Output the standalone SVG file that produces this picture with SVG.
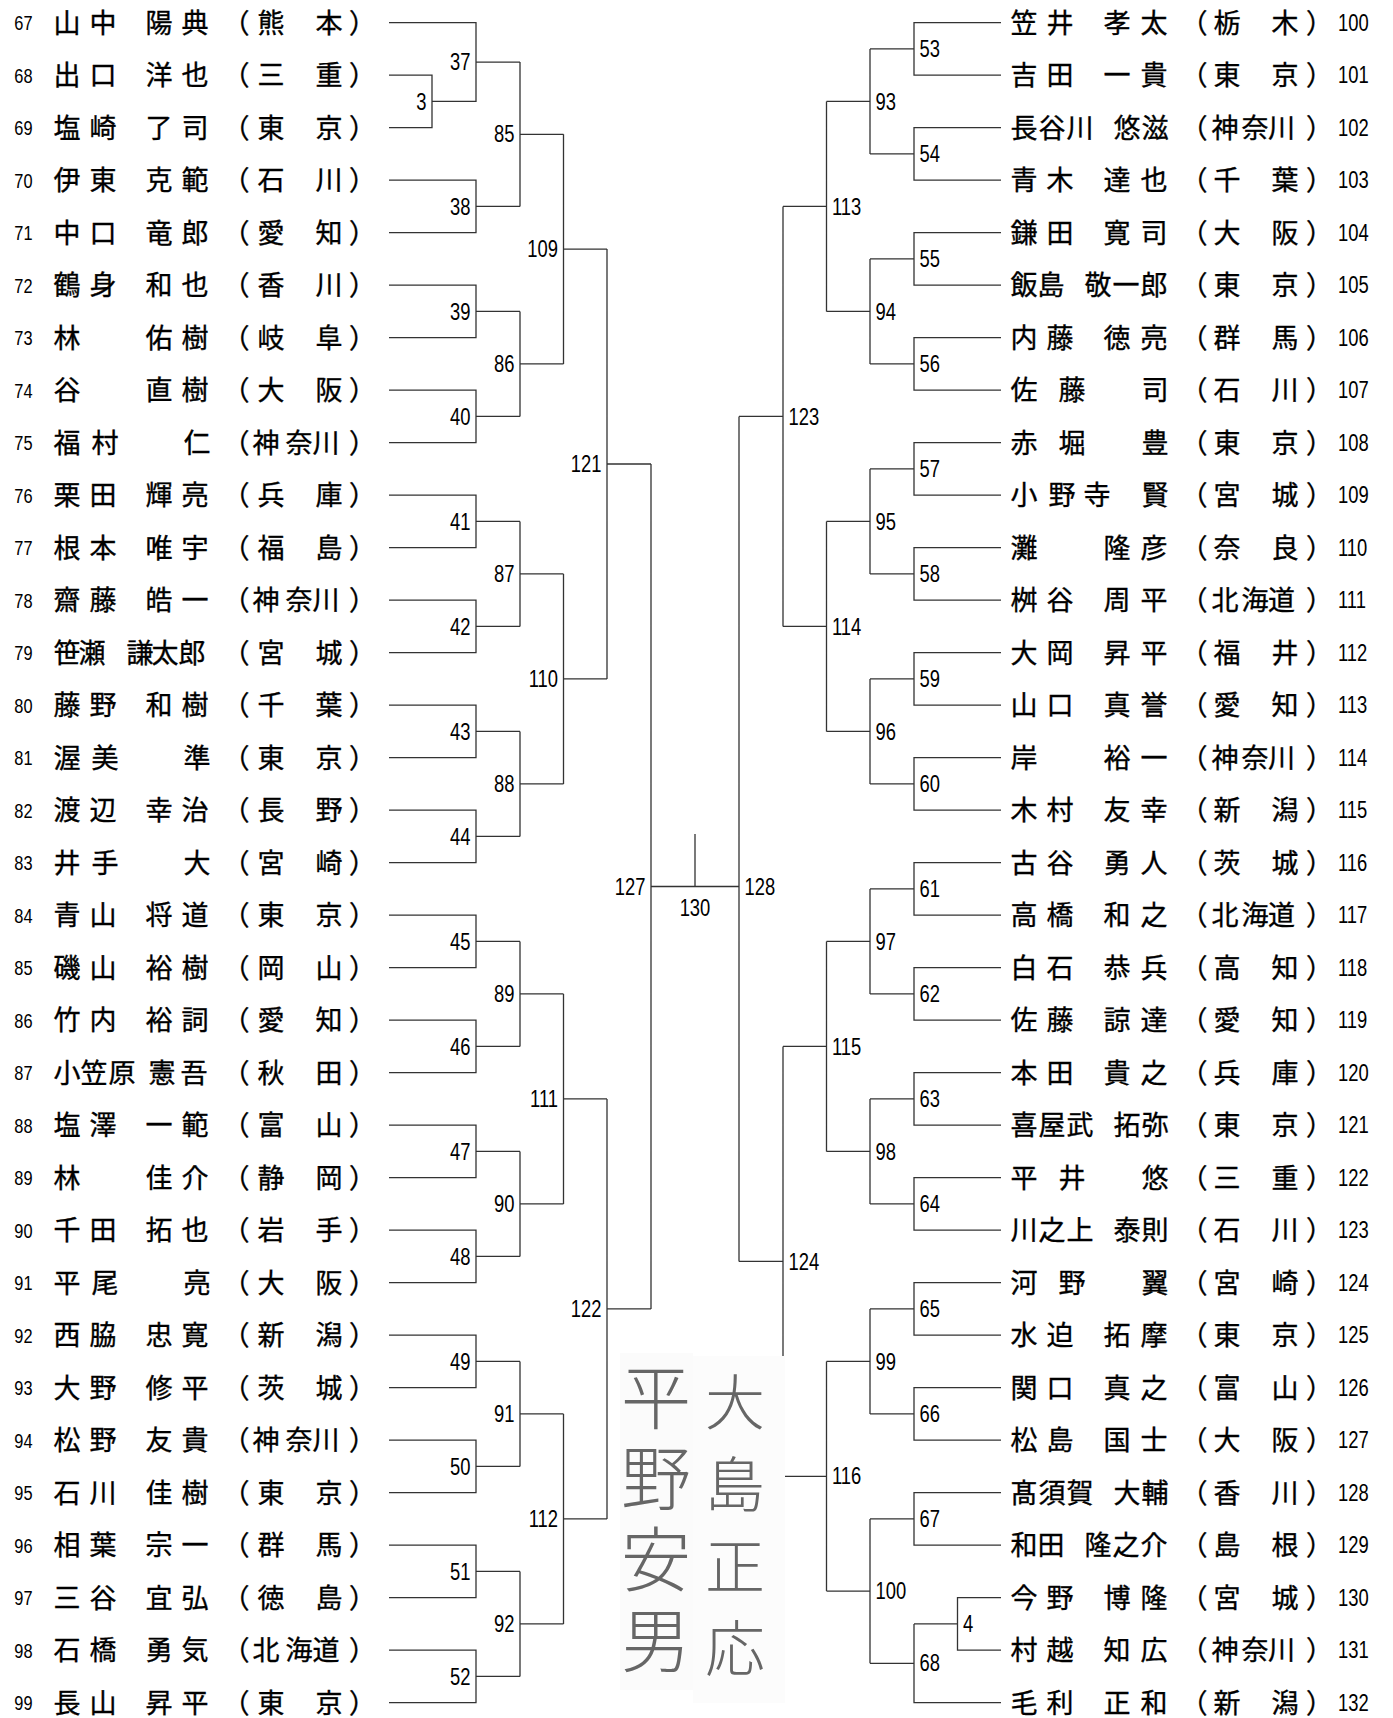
<svg xmlns="http://www.w3.org/2000/svg" width="1393" height="1718" viewBox="0 0 1393 1718">
<style>
.ln{fill:none;stroke:#333;stroke-width:1.3}
.nm{font-family:"Noto Sans CJK JP","Noto Sans CJK SC",sans-serif;font-size:27px;fill:#000;stroke:#000;stroke-width:0.35}
.nl,.nr,.ml,.mr,.mc{font-family:"Liberation Sans Narrow","Liberation Sans",sans-serif;fill:#000;transform-box:fill-box}
.nl{font-size:21px;text-anchor:end;transform-origin:100% 50%;transform:scaleX(0.78)}
.nr{font-size:23px;transform-origin:0% 50%;transform:scaleX(0.8)}
.ml{font-size:23px;text-anchor:end;transform-origin:100% 50%;transform:scaleX(0.8)}
.mr{font-size:23px;transform-origin:0% 50%;transform:scaleX(0.8)}
.mc{font-size:23px;text-anchor:middle;transform-origin:50% 50%;transform:scaleX(0.8)}
.sg{font-family:"Noto Sans CJK JP",sans-serif;font-weight:300;fill:#666;writing-mode:vertical-rl}
</style>
<rect width="1393" height="1718" fill="#fff"/>
<g id="connectors" class="ln">
<path d="M389 22.7H476V101.45H432M389 75.2H432V127.7H389M432 101.45H476M476 62.1H520
M389 180.2H476V232.7H389M476 206.45H520
M389 285.2H476V337.7H389M476 311.45H520
M389 390.2H476V442.7H389M476 416.45H520
M389 495.2H476V547.7H389M476 521.45H520
M389 600.2H476V652.7H389M476 626.45H520
M389 705.2H476V757.7H389M476 731.45H520
M389 810.2H476V862.7H389M476 836.45H520
M389 915.2H476V967.7H389M476 941.45H520
M389 1020.2H476V1072.7H389M476 1046.45H520
M389 1125.2H476V1177.7H389M476 1151.45H520
M389 1230.2H476V1282.7H389M476 1256.45H520
M389 1335.2H476V1387.7H389M476 1361.45H520
M389 1440.2H476V1492.7H389M476 1466.45H520
M389 1545.2H476V1597.7H389M476 1571.45H520
M389 1650.2H476V1702.7H389M476 1676.45H520
M520 62.1V206.45M520 134.3H563.5
M520 311.45V416.45M520 363.95H563.5
M520 521.45V626.45M520 573.95H563.5
M520 731.45V836.45M520 783.95H563.5
M520 941.45V1046.45M520 993.95H563.5
M520 1151.45V1256.45M520 1203.95H563.5
M520 1361.45V1466.45M520 1413.95H563.5
M520 1571.45V1676.45M520 1623.95H563.5
M563.5 134.3V363.95M563.5 249.1H607
M563.5 573.95V783.95M563.5 678.95H607
M563.5 993.95V1203.95M563.5 1098.95H607
M563.5 1413.95V1623.95M563.5 1518.95H607
M607 249.1V678.95M607 464H651
M607 1098.95V1518.95M607 1308.95H651
M651 464V1308.95M651 886.5H739M695 834V886.5
M739 416.45V1261.4
M1001 22.7H914V75.2H1001M914 48.95H870
M1001 127.7H914V180.2H1001M914 153.95H870
M1001 232.7H914V285.2H1001M914 258.95H870
M1001 337.7H914V390.2H1001M914 363.95H870
M1001 442.7H914V495.2H1001M914 468.95H870
M1001 547.7H914V600.2H1001M914 573.95H870
M1001 652.7H914V705.2H1001M914 678.95H870
M1001 757.7H914V810.2H1001M914 783.95H870
M1001 862.7H914V915.2H1001M914 888.95H870
M1001 967.7H914V1020.2H1001M914 993.95H870
M1001 1072.7H914V1125.2H1001M914 1098.95H870
M1001 1177.7H914V1230.2H1001M914 1203.95H870
M1001 1282.7H914V1335.2H1001M914 1308.95H870
M1001 1387.7H914V1440.2H1001M914 1413.95H870
M1001 1492.7H914V1545.2H1001M914 1518.95H870
M1001 1597.7H957.5V1650.2H1001M957.5 1623.95H914
M914 1623.95V1702.7H1001M914 1663.3H870
M870 48.95V153.95M870 101.45H826.5
M870 258.95V363.95M870 311.45H826.5
M870 468.95V573.95M870 521.45H826.5
M870 678.95V783.95M870 731.45H826.5
M870 888.95V993.95M870 941.45H826.5
M870 1098.95V1203.95M870 1151.45H826.5
M870 1308.95V1413.95M870 1361.45H826.5
M870 1518.95V1663.3M870 1591.1H826.5
M826.5 101.45V311.45M826.5 206.45H783
M826.5 521.45V731.45M826.5 626.45H783
M826.5 941.45V1151.45M826.5 1046.45H783
M826.5 1361.45V1591.1M826.5 1476.3H783
M783 206.45V626.45M783 416.45H739
M783 1046.45V1476.3M783 1261.4H739"/>
</g>
<g id="left-players">
<g id="r67"><text class="nl" x="32.5" y="30.2">67</text><text class="nm" x="53.5 89.5 117 145.5 181.5 222.5 257.5 286 315.5 349" y="32.7">山中　陽典（熊　本）</text></g>
<g id="r68"><text class="nl" x="32.5" y="82.7">68</text><text class="nm" x="53.5 89.5 117 145.5 181.5 222.5 257.5 286 315.5 349" y="85.2">出口　洋也（三　重）</text></g>
<g id="r69"><text class="nl" x="32.5" y="135.2">69</text><text class="nm" x="53.5 89.5 117 145.5 181.5 222.5 257.5 286 315.5 349" y="137.7">塩崎　了司（東　京）</text></g>
<g id="r70"><text class="nl" x="32.5" y="187.7">70</text><text class="nm" x="53.5 89.5 117 145.5 181.5 222.5 257.5 286 315.5 349" y="190.2">伊東　克範（石　川）</text></g>
<g id="r71"><text class="nl" x="32.5" y="240.2">71</text><text class="nm" x="53.5 89.5 117 145.5 181.5 222.5 257.5 286 315.5 349" y="242.7">中口　竜郎（愛　知）</text></g>
<g id="r72"><text class="nl" x="32.5" y="292.7">72</text><text class="nm" x="53.5 89.5 117 145.5 181.5 222.5 257.5 286 315.5 349" y="295.2">鶴身　和也（香　川）</text></g>
<g id="r73"><text class="nl" x="32.5" y="345.2">73</text><text class="nm" x="53.5 99 145.5 181.5 222.5 257.5 286 315.5 349" y="347.7">林　佑樹（岐　阜）</text></g>
<g id="r74"><text class="nl" x="32.5" y="397.7">74</text><text class="nm" x="53.5 99 145.5 181.5 222.5 257.5 286 315.5 349" y="400.2">谷　直樹（大　阪）</text></g>
<g id="r75"><text class="nl" x="32.5" y="450.2">75</text><text class="nm" x="53.5 91.5 140 183.5 222.5 252.5 285.5 312.5 349" y="452.7">福村　仁（神奈川）</text></g>
<g id="r76"><text class="nl" x="32.5" y="502.7">76</text><text class="nm" x="53.5 89.5 117 145.5 181.5 222.5 257.5 286 315.5 349" y="505.2">栗田　輝亮（兵　庫）</text></g>
<g id="r77"><text class="nl" x="32.5" y="555.2">77</text><text class="nm" x="53.5 89.5 117 145.5 181.5 222.5 257.5 286 315.5 349" y="557.7">根本　唯宇（福　島）</text></g>
<g id="r78"><text class="nl" x="32.5" y="607.7">78</text><text class="nm" x="53.5 89.5 117 145.5 181.5 222.5 252.5 285.5 312.5 349" y="610.2">齋藤　皓一（神奈川）</text></g>
<g id="r79"><text class="nl" x="32.5" y="660.2">79</text><text class="nm" x="53.5 78.5 103 126.5 151.5 178.5 222.5 257.5 286 315.5 349" y="662.7">笹瀬　謙太郎（宮　城）</text></g>
<g id="r80"><text class="nl" x="32.5" y="712.7">80</text><text class="nm" x="53.5 89.5 117 145.5 181.5 222.5 257.5 286 315.5 349" y="715.2">藤野　和樹（千　葉）</text></g>
<g id="r81"><text class="nl" x="32.5" y="765.2">81</text><text class="nm" x="53.5 91.5 140 183.5 222.5 257.5 286 315.5 349" y="767.7">渥美　準（東　京）</text></g>
<g id="r82"><text class="nl" x="32.5" y="817.7">82</text><text class="nm" x="53.5 89.5 117 145.5 181.5 222.5 257.5 286 315.5 349" y="820.2">渡辺　幸治（長　野）</text></g>
<g id="r83"><text class="nl" x="32.5" y="870.2">83</text><text class="nm" x="53.5 91.5 140 183.5 222.5 257.5 286 315.5 349" y="872.7">井手　大（宮　崎）</text></g>
<g id="r84"><text class="nl" x="32.5" y="922.7">84</text><text class="nm" x="53.5 89.5 117 145.5 181.5 222.5 257.5 286 315.5 349" y="925.2">青山　将道（東　京）</text></g>
<g id="r85"><text class="nl" x="32.5" y="975.2">85</text><text class="nm" x="53.5 89.5 117 145.5 181.5 222.5 257.5 286 315.5 349" y="977.7">磯山　裕樹（岡　山）</text></g>
<g id="r86"><text class="nl" x="32.5" y="1027.7">86</text><text class="nm" x="53.5 89.5 117 145.5 181.5 222.5 257.5 286 315.5 349" y="1030.2">竹内　裕詞（愛　知）</text></g>
<g id="r87"><text class="nl" x="32.5" y="1080.2">87</text><text class="nm" x="53.5 80.5 108.5 130 148.5 180.5 222.5 257.5 286 315.5 349" y="1082.7">小笠原　憲吾（秋　田）</text></g>
<g id="r88"><text class="nl" x="32.5" y="1132.7">88</text><text class="nm" x="53.5 89.5 117 145.5 181.5 222.5 257.5 286 315.5 349" y="1135.2">塩澤　一範（富　山）</text></g>
<g id="r89"><text class="nl" x="32.5" y="1185.2">89</text><text class="nm" x="53.5 99 145.5 181.5 222.5 257.5 286 315.5 349" y="1187.7">林　佳介（静　岡）</text></g>
<g id="r90"><text class="nl" x="32.5" y="1237.7">90</text><text class="nm" x="53.5 89.5 117 145.5 181.5 222.5 257.5 286 315.5 349" y="1240.2">千田　拓也（岩　手）</text></g>
<g id="r91"><text class="nl" x="32.5" y="1290.2">91</text><text class="nm" x="53.5 91.5 140 183.5 222.5 257.5 286 315.5 349" y="1292.7">平尾　亮（大　阪）</text></g>
<g id="r92"><text class="nl" x="32.5" y="1342.7">92</text><text class="nm" x="53.5 89.5 117 145.5 181.5 222.5 257.5 286 315.5 349" y="1345.2">西脇　忠寛（新　潟）</text></g>
<g id="r93"><text class="nl" x="32.5" y="1395.2">93</text><text class="nm" x="53.5 89.5 117 145.5 181.5 222.5 257.5 286 315.5 349" y="1397.7">大野　修平（茨　城）</text></g>
<g id="r94"><text class="nl" x="32.5" y="1447.7">94</text><text class="nm" x="53.5 89.5 117 145.5 181.5 222.5 252.5 285.5 312.5 349" y="1450.2">松野　友貴（神奈川）</text></g>
<g id="r95"><text class="nl" x="32.5" y="1500.2">95</text><text class="nm" x="53.5 89.5 117 145.5 181.5 222.5 257.5 286 315.5 349" y="1502.7">石川　佳樹（東　京）</text></g>
<g id="r96"><text class="nl" x="32.5" y="1552.7">96</text><text class="nm" x="53.5 89.5 117 145.5 181.5 222.5 257.5 286 315.5 349" y="1555.2">相葉　宗一（群　馬）</text></g>
<g id="r97"><text class="nl" x="32.5" y="1605.2">97</text><text class="nm" x="53.5 89.5 117 145.5 181.5 222.5 257.5 286 315.5 349" y="1607.7">三谷　宜弘（徳　島）</text></g>
<g id="r98"><text class="nl" x="32.5" y="1657.7">98</text><text class="nm" x="53.5 89.5 117 145.5 181.5 222.5 252.5 285.5 312.5 349" y="1660.2">石橋　勇気（北海道）</text></g>
<g id="r99"><text class="nl" x="32.5" y="1710.2">99</text><text class="nm" x="53.5 89.5 117 145.5 181.5 222.5 257.5 286 315.5 349" y="1712.7">長山　昇平（東　京）</text></g>
</g>
<g id="right-players">
<g id="r100"><text class="nm" x="1010.5 1046.5 1075 1103.5 1140.5 1180.5 1213.5 1242 1271.5 1306" y="32.7">笠井　孝太（栃　木）</text><text class="nr" x="1338" y="30.9">100</text></g>
<g id="r101"><text class="nm" x="1010.5 1046.5 1075 1103.5 1140.5 1180.5 1213.5 1242 1271.5 1306" y="85.2">吉田　一貴（東　京）</text><text class="nr" x="1338" y="83.4">101</text></g>
<g id="r102"><text class="nm" x="1010.5 1038.5 1066.5 1090 1113.5 1141.5 1180.5 1211.5 1241.5 1268 1306" y="137.7">長谷川　悠滋（神奈川）</text><text class="nr" x="1338" y="135.9">102</text></g>
<g id="r103"><text class="nm" x="1010.5 1046.5 1075 1103.5 1140.5 1180.5 1213.5 1242 1271.5 1306" y="190.2">青木　達也（千　葉）</text><text class="nr" x="1338" y="188.4">103</text></g>
<g id="r104"><text class="nm" x="1010.5 1046.5 1075 1103.5 1140.5 1180.5 1213.5 1242 1271.5 1306" y="242.7">鎌田　寛司（大　阪）</text><text class="nr" x="1338" y="240.9">104</text></g>
<g id="r105"><text class="nm" x="1010.5 1037.5 1060 1084.5 1112.5 1140.5 1180.5 1213.5 1242 1271.5 1306" y="295.2">飯島　敬一郎（東　京）</text><text class="nr" x="1338" y="293.4">105</text></g>
<g id="r106"><text class="nm" x="1010.5 1046.5 1075 1103.5 1140.5 1180.5 1213.5 1242 1271.5 1306" y="347.7">内藤　徳亮（群　馬）</text><text class="nr" x="1338" y="345.9">106</text></g>
<g id="r107"><text class="nm" x="1010.5 1058.5 1100 1141.5 1180.5 1213.5 1242 1271.5 1306" y="400.2">佐藤　司（石　川）</text><text class="nr" x="1338" y="398.4">107</text></g>
<g id="r108"><text class="nm" x="1010.5 1058.5 1100 1141.5 1180.5 1213.5 1242 1271.5 1306" y="452.7">赤堀　豊（東　京）</text><text class="nr" x="1338" y="450.9">108</text></g>
<g id="r109"><text class="nm" x="1010.5 1048.5 1083.5 1110 1141.5 1180.5 1213.5 1242 1271.5 1306" y="505.2">小野寺　賢（宮　城）</text><text class="nr" x="1338" y="503.4">109</text></g>
<g id="r110"><text class="nm" x="1010.5 1057 1103.5 1140.5 1180.5 1213.5 1242 1271.5 1306" y="557.7">灘　隆彦（奈　良）</text><text class="nr" x="1338" y="555.9">110</text></g>
<g id="r111"><text class="nm" x="1010.5 1046.5 1075 1103.5 1140.5 1180.5 1211.5 1241.5 1268 1306" y="610.2">桝谷　周平（北海道）</text><text class="nr" x="1338" y="608.4">111</text></g>
<g id="r112"><text class="nm" x="1010.5 1046.5 1075 1103.5 1140.5 1180.5 1213.5 1242 1271.5 1306" y="662.7">大岡　昇平（福　井）</text><text class="nr" x="1338" y="660.9">112</text></g>
<g id="r113"><text class="nm" x="1010.5 1046.5 1075 1103.5 1140.5 1180.5 1213.5 1242 1271.5 1306" y="715.2">山口　真誉（愛　知）</text><text class="nr" x="1338" y="713.4">113</text></g>
<g id="r114"><text class="nm" x="1010.5 1057 1103.5 1140.5 1180.5 1211.5 1241.5 1268 1306" y="767.7">岸　裕一（神奈川）</text><text class="nr" x="1338" y="765.9">114</text></g>
<g id="r115"><text class="nm" x="1010.5 1046.5 1075 1103.5 1140.5 1180.5 1213.5 1242 1271.5 1306" y="820.2">木村　友幸（新　潟）</text><text class="nr" x="1338" y="818.4">115</text></g>
<g id="r116"><text class="nm" x="1010.5 1046.5 1075 1103.5 1140.5 1180.5 1213.5 1242 1271.5 1306" y="872.7">古谷　勇人（茨　城）</text><text class="nr" x="1338" y="870.9">116</text></g>
<g id="r117"><text class="nm" x="1010.5 1046.5 1075 1103.5 1140.5 1180.5 1211.5 1241.5 1268 1306" y="925.2">高橋　和之（北海道）</text><text class="nr" x="1338" y="923.4">117</text></g>
<g id="r118"><text class="nm" x="1010.5 1046.5 1075 1103.5 1140.5 1180.5 1213.5 1242 1271.5 1306" y="977.7">白石　恭兵（高　知）</text><text class="nr" x="1338" y="975.9">118</text></g>
<g id="r119"><text class="nm" x="1010.5 1046.5 1075 1103.5 1140.5 1180.5 1213.5 1242 1271.5 1306" y="1030.2">佐藤　諒達（愛　知）</text><text class="nr" x="1338" y="1028.4">119</text></g>
<g id="r120"><text class="nm" x="1010.5 1046.5 1075 1103.5 1140.5 1180.5 1213.5 1242 1271.5 1306" y="1082.7">本田　貴之（兵　庫）</text><text class="nr" x="1338" y="1080.9">120</text></g>
<g id="r121"><text class="nm" x="1010.5 1038.5 1066.5 1090 1113.5 1141.5 1180.5 1213.5 1242 1271.5 1306" y="1135.2">喜屋武　拓弥（東　京）</text><text class="nr" x="1338" y="1133.4">121</text></g>
<g id="r122"><text class="nm" x="1010.5 1058.5 1100 1141.5 1180.5 1213.5 1242 1271.5 1306" y="1187.7">平井　悠（三　重）</text><text class="nr" x="1338" y="1185.9">122</text></g>
<g id="r123"><text class="nm" x="1010.5 1038.5 1066.5 1090 1113.5 1141.5 1180.5 1213.5 1242 1271.5 1306" y="1240.2">川之上　泰則（石　川）</text><text class="nr" x="1338" y="1238.4">123</text></g>
<g id="r124"><text class="nm" x="1010.5 1058.5 1100 1141.5 1180.5 1213.5 1242 1271.5 1306" y="1292.7">河野　翼（宮　崎）</text><text class="nr" x="1338" y="1290.9">124</text></g>
<g id="r125"><text class="nm" x="1010.5 1046.5 1075 1103.5 1140.5 1180.5 1213.5 1242 1271.5 1306" y="1345.2">水迫　拓摩（東　京）</text><text class="nr" x="1338" y="1343.4">125</text></g>
<g id="r126"><text class="nm" x="1010.5 1046.5 1075 1103.5 1140.5 1180.5 1213.5 1242 1271.5 1306" y="1397.7">関口　真之（富　山）</text><text class="nr" x="1338" y="1395.9">126</text></g>
<g id="r127"><text class="nm" x="1010.5 1046.5 1075 1103.5 1140.5 1180.5 1213.5 1242 1271.5 1306" y="1450.2">松島　国士（大　阪）</text><text class="nr" x="1338" y="1448.4">127</text></g>
<g id="r128"><text class="nm" x="1010.5 1038.5 1066.5 1090 1113.5 1141.5 1180.5 1213.5 1242 1271.5 1306" y="1502.7">髙須賀　大輔（香　川）</text><text class="nr" x="1338" y="1500.9">128</text></g>
<g id="r129"><text class="nm" x="1010.5 1037.5 1060 1084.5 1112.5 1140.5 1180.5 1213.5 1242 1271.5 1306" y="1555.2">和田　隆之介（島　根）</text><text class="nr" x="1338" y="1553.4">129</text></g>
<g id="r130"><text class="nm" x="1010.5 1046.5 1075 1103.5 1140.5 1180.5 1213.5 1242 1271.5 1306" y="1607.7">今野　博隆（宮　城）</text><text class="nr" x="1338" y="1605.9">130</text></g>
<g id="r131"><text class="nm" x="1010.5 1046.5 1075 1103.5 1140.5 1180.5 1211.5 1241.5 1268 1306" y="1660.2">村越　知広（神奈川）</text><text class="nr" x="1338" y="1658.4">131</text></g>
<g id="r132"><text class="nm" x="1010.5 1046.5 1075 1103.5 1140.5 1180.5 1213.5 1242 1271.5 1306" y="1712.7">毛利　正和（新　潟）</text><text class="nr" x="1338" y="1710.9">132</text></g>
</g>
<g id="match-labels">
<text id="m3" class="ml" x="426.5" y="109.6">3</text>
<text id="m37" class="ml" x="470.5" y="70.3">37</text>
<text id="m38" class="ml" x="470.5" y="214.6">38</text>
<text id="m39" class="ml" x="470.5" y="319.6">39</text>
<text id="m40" class="ml" x="470.5" y="424.6">40</text>
<text id="m41" class="ml" x="470.5" y="529.6">41</text>
<text id="m42" class="ml" x="470.5" y="634.6">42</text>
<text id="m43" class="ml" x="470.5" y="739.6">43</text>
<text id="m44" class="ml" x="470.5" y="844.6">44</text>
<text id="m45" class="ml" x="470.5" y="949.6">45</text>
<text id="m46" class="ml" x="470.5" y="1054.6">46</text>
<text id="m47" class="ml" x="470.5" y="1159.6">47</text>
<text id="m48" class="ml" x="470.5" y="1264.6">48</text>
<text id="m49" class="ml" x="470.5" y="1369.6">49</text>
<text id="m50" class="ml" x="470.5" y="1474.6">50</text>
<text id="m51" class="ml" x="470.5" y="1579.6">51</text>
<text id="m52" class="ml" x="470.5" y="1684.6">52</text>
<text id="m85" class="ml" x="514.5" y="142.5">85</text>
<text id="m86" class="ml" x="514.5" y="372.1">86</text>
<text id="m87" class="ml" x="514.5" y="582.1">87</text>
<text id="m88" class="ml" x="514.5" y="792.1">88</text>
<text id="m89" class="ml" x="514.5" y="1002.1">89</text>
<text id="m90" class="ml" x="514.5" y="1212.1">90</text>
<text id="m91" class="ml" x="514.5" y="1422.1">91</text>
<text id="m92" class="ml" x="514.5" y="1632.1">92</text>
<text id="m109" class="ml" x="558" y="257.3">109</text>
<text id="m110" class="ml" x="558" y="687.1">110</text>
<text id="m111" class="ml" x="558" y="1107.1">111</text>
<text id="m112" class="ml" x="558" y="1527.1">112</text>
<text id="m121" class="ml" x="601.5" y="472.2">121</text>
<text id="m122" class="ml" x="601.5" y="1317.1">122</text>
<text id="m127" class="ml" x="645.5" y="894.7">127</text>
<text id="m130" class="mc" x="695" y="916">130</text>
<text id="m128" class="mr" x="744.5" y="894.7">128</text>
<text id="m123" class="mr" x="788.5" y="424.6">123</text>
<text id="m124" class="mr" x="788.5" y="1269.6">124</text>
<text id="m113" class="mr" x="832" y="214.6">113</text>
<text id="m114" class="mr" x="832" y="634.6">114</text>
<text id="m115" class="mr" x="832" y="1054.6">115</text>
<text id="m116" class="mr" x="832" y="1484.5">116</text>
<text id="m93" class="mr" x="875.5" y="109.6">93</text>
<text id="m94" class="mr" x="875.5" y="319.6">94</text>
<text id="m95" class="mr" x="875.5" y="529.6">95</text>
<text id="m96" class="mr" x="875.5" y="739.6">96</text>
<text id="m97" class="mr" x="875.5" y="949.6">97</text>
<text id="m98" class="mr" x="875.5" y="1159.6">98</text>
<text id="m99" class="mr" x="875.5" y="1369.6">99</text>
<text id="m100" class="mr" x="875.5" y="1599.3">100</text>
<text id="m53" class="mr" x="919.5" y="57.1">53</text>
<text id="m54" class="mr" x="919.5" y="162.1">54</text>
<text id="m55" class="mr" x="919.5" y="267.1">55</text>
<text id="m56" class="mr" x="919.5" y="372.1">56</text>
<text id="m57" class="mr" x="919.5" y="477.1">57</text>
<text id="m58" class="mr" x="919.5" y="582.1">58</text>
<text id="m59" class="mr" x="919.5" y="687.1">59</text>
<text id="m60" class="mr" x="919.5" y="792.1">60</text>
<text id="m61" class="mr" x="919.5" y="897.1">61</text>
<text id="m62" class="mr" x="919.5" y="1002.1">62</text>
<text id="m63" class="mr" x="919.5" y="1107.1">63</text>
<text id="m64" class="mr" x="919.5" y="1212.1">64</text>
<text id="m65" class="mr" x="919.5" y="1317.1">65</text>
<text id="m66" class="mr" x="919.5" y="1422.1">66</text>
<text id="m67" class="mr" x="919.5" y="1527.1">67</text>
<text id="m68" class="mr" x="919.5" y="1671.5">68</text>
<text id="m4" class="mr" x="963" y="1632.1">4</text>
</g>
<g id="signatures">
<rect x="620" y="1353" width="73" height="337" fill="#fbfbfb"/>
<rect x="693" y="1356" width="92" height="347" fill="#fcfcfc"/>
<text class="sg" x="656" y="1362" font-size="70" letter-spacing="11">平野安男</text>
<text class="sg" x="735" y="1372" font-size="60" letter-spacing="22">大島正応</text>
</g>
</svg>
